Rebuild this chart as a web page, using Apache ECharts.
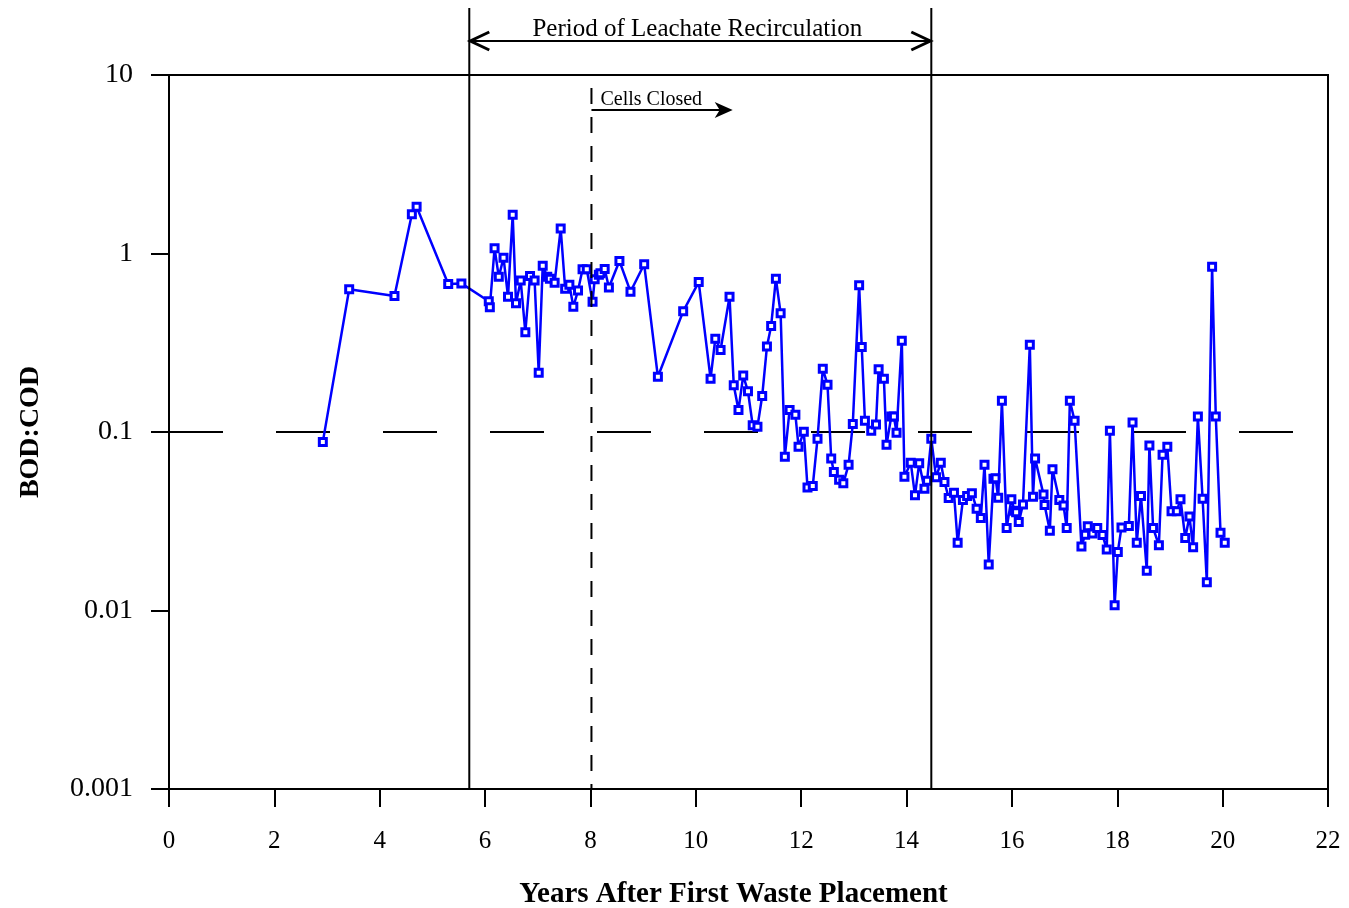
<!DOCTYPE html>
<html>
<head>
<meta charset="utf-8">
<title>BOD:COD</title>
<script src="https://cdn.jsdelivr.net/npm/echarts@6/dist/echarts.min.js"></script>
<style>
  html, body { margin: 0; padding: 0; background: #fff; }
  #chart { width: 1349px; height: 908px; }
</style>
</head>
<body>
<div id="chart"></div>
<script>
// Years after first waste placement for each leachate sample
const years = [
  2.92, 3.42, 4.28, 4.61, 4.70, 5.30, 5.55, 6.07, 6.09, 6.18,
  6.26, 6.35, 6.435, 6.524, 6.587, 6.676, 6.764, 6.853, 6.94, 7.018,
  7.094, 7.18, 7.23, 7.32, 7.435, 7.52, 7.60, 7.675, 7.764, 7.85,
  7.93, 8.04, 8.08, 8.16, 8.19, 8.27, 8.35, 8.55, 8.76, 9.02,
  9.28, 9.76, 10.055, 10.28, 10.37, 10.47, 10.64, 10.72, 10.81, 10.90,
  10.99, 11.08, 11.17, 11.26, 11.35, 11.43, 11.52, 11.61, 11.69, 11.78,
  11.89, 11.95, 12.05, 12.12, 12.22, 12.31, 12.41, 12.50, 12.57, 12.62,
  12.72, 12.80, 12.90, 12.98, 13.10, 13.15, 13.21, 13.33, 13.42, 13.47,
  13.57, 13.62, 13.71, 13.76, 13.81, 13.91, 13.96, 14.08, 14.16, 14.24,
  14.34, 14.39, 14.47, 14.56, 14.65, 14.72, 14.80, 14.90, 14.97, 15.07,
  15.15, 15.24, 15.33, 15.41, 15.48, 15.56, 15.65, 15.69, 15.74, 15.81,
  15.90, 15.99, 16.05, 16.08, 16.13, 16.21, 16.34, 16.40, 16.44, 16.60,
  16.62, 16.72, 16.77, 16.90, 16.98, 17.04, 17.10, 17.19, 17.32, 17.39,
  17.44, 17.53, 17.62, 17.72, 17.80, 17.86, 17.95, 18.01, 18.08, 18.22,
  18.29, 18.37, 18.45, 18.56, 18.61, 18.68, 18.79, 18.86, 18.95, 19.03,
  19.13, 19.20, 19.29, 19.37, 19.44, 19.53, 19.62, 19.70, 19.80, 19.87,
  19.96, 20.04
];

// BOD:COD ratio measured for each sample
const ratios = [
  0.088, 0.63, 0.578, 1.66, 1.83, 0.675, 0.68, 0.54, 0.50, 1.07,
  0.74, 0.947, 0.573, 1.65, 0.526, 0.705, 0.362, 0.748, 0.705, 0.215,
  0.855, 0.74, 0.722, 0.686, 1.38, 0.635, 0.668, 0.503, 0.62, 0.816,
  0.816, 0.537, 0.717, 0.76, 0.775, 0.818, 0.645, 0.908, 0.611, 0.87,
  0.204, 0.474, 0.692, 0.199, 0.333, 0.288, 0.573, 0.183, 0.133, 0.207,
  0.169, 0.109, 0.107, 0.159, 0.301, 0.393, 0.723, 0.462, 0.0727, 0.133,
  0.125, 0.0827, 0.1004, 0.0488, 0.0499, 0.0917, 0.226, 0.184, 0.071, 0.0597,
  0.054, 0.0516, 0.0656, 0.111, 0.663, 0.299, 0.1156, 0.1017, 0.11, 0.2245,
  0.199, 0.0849, 0.122, 0.122, 0.099, 0.325, 0.0562, 0.0673, 0.0442, 0.0668,
  0.0481, 0.0533, 0.0917, 0.0557, 0.0673, 0.0525, 0.0427, 0.0457, 0.024, 0.0416,
  0.0438, 0.0454, 0.0372, 0.033, 0.0656, 0.0181, 0.0547, 0.055, 0.0428, 0.1497,
  0.029, 0.042, 0.0362, 0.0355, 0.0313, 0.0392, 0.308, 0.0434, 0.071, 0.0446,
  0.039, 0.028, 0.0618, 0.0416, 0.0387, 0.029, 0.1497, 0.1156, 0.0228, 0.0266,
  0.0296, 0.027, 0.029, 0.0265, 0.022, 0.1017, 0.0107, 0.0213, 0.0292, 0.0297,
  0.113, 0.024, 0.0438, 0.0167, 0.0841, 0.029, 0.0232, 0.0746, 0.0827, 0.036,
  0.036, 0.042, 0.0255, 0.0336, 0.0226, 0.122, 0.0423, 0.0144, 0.843, 0.122,
  0.0273, 0.024
];

// Reference ratio of 0.1, drawn as a long-dash line across the years
const referenceYears = [0, 21.37];
const referenceRatio = [0.1, 0.1];

// Periods marked above the plot
const recirculationStart = 5.7;
const recirculationEnd = 14.47;
const cellsClosedYear = 8;
const cellsClosedArrowEnd = 10.7;

// Axis ranges and ticks
const xMin = 0, xMax = 22, xStep = 2;
const yMin = 0.001, yMax = 10;

const FONT = "'Liberation Serif', 'Times New Roman', serif";

const chart = echarts.init(document.getElementById('chart'), null, { renderer: 'canvas' });

const option = {
  backgroundColor: '#fff',
  animation: false,
  grid: {
    left: 169, right: 21, top: 75, bottom: 119,
    containLabel: false,
    outerBoundsMode: 'none',
    show: true, borderColor: '#000', borderWidth: 2, backgroundColor: 'transparent'
  },
  xAxis: {
    type: 'value',
    min: xMin, max: xMax, interval: xStep,
    name: 'Years After First Waste Placement',
    nameLocation: 'middle',
    nameGap: 91,
    nameTextStyle: { fontFamily: FONT, fontWeight: 'bold', fontSize: 29, color: '#000', padding: [0, 30, 0, 0] },
    axisLine: { show: true, lineStyle: { color: '#000', width: 2 } },
    axisTick: { show: true, inside: false, length: 18, lineStyle: { color: '#000', width: 2 } },
    axisLabel: { fontFamily: FONT, fontSize: 25, color: '#000', margin: 40 },
    splitLine: { show: false }
  },
  yAxis: {
    type: 'log',
    logBase: 10,
    min: yMin, max: yMax,
    name: 'BOD:COD',
    nameLocation: 'middle',
    nameGap: 124,
    nameRotate: 90,
    nameTextStyle: { fontFamily: FONT, fontWeight: 'bold', fontSize: 28, color: '#000' },
    axisLine: { show: true, lineStyle: { color: '#000', width: 2 } },
    axisTick: { show: true, inside: false, length: 18, lineStyle: { color: '#000', width: 2 } },
    axisLabel: {
      fontFamily: FONT, fontSize: 28, color: '#000', margin: 36,
      formatter: function (v) {
        return v >= 1 ? String(Math.round(v)) : String(Number(v.toPrecision(1)));
      }
    },
    splitLine: { show: false },
    minorTick: { show: false }
  },
  series: [
    {
      name: 'Reference',
      type: 'line',
      data: referenceYears.map((x, i) => [x, referenceRatio[i]]),
      symbol: 'none',
      silent: true,
      lineStyle: { color: '#000', width: 2, type: [54, 53] },
      z: 1
    },
    {
      name: 'BOD:COD',
      type: 'line',
      data: years.map((x, i) => [x, ratios[i]]),
      symbol: 'rect',
      symbolSize: 7,
      showAllSymbol: true,
      lineStyle: { color: '#0000ff', width: 2.5 },
      itemStyle: { color: '#ffffff', borderColor: '#0000ff', borderWidth: 3 },
      z: 3
    }
  ]
};

chart.setOption(option);

// Annotations placed through the axes' own coordinate conversion
function px(x, y) {
  return chart.convertToPixel({ xAxisIndex: 0, yAxisIndex: 0 }, [x, y]);
}

const gridBottom = px(0, yMin)[1];
const xs = px(recirculationStart, 1)[0];
const xe = px(recirculationEnd, 1)[0];
const xc = px(cellsClosedYear, 1)[0] + 1;
const xa = px(cellsClosedArrowEnd, 1)[0];
const arrowY = 41;
const cellsY = 110;
const black = '#000';

chart.setOption({
  graphic: [
    { type: 'line', shape: { x1: xs, y1: 8, x2: xs, y2: gridBottom }, style: { stroke: black, lineWidth: 2 }, z: 10 },
    { type: 'line', shape: { x1: xe, y1: 8, x2: xe, y2: gridBottom }, style: { stroke: black, lineWidth: 2 }, z: 10 },
    { type: 'line', shape: { x1: xc, y1: 88, x2: xc, y2: gridBottom }, style: { stroke: black, lineWidth: 2, lineDash: [16, 13] }, z: 10 },
    { type: 'line', shape: { x1: xs, y1: arrowY, x2: xe, y2: arrowY }, style: { stroke: black, lineWidth: 2 }, z: 10 },
    { type: 'polyline', shape: { points: [[xs + 20, arrowY - 9], [xs + 1, arrowY], [xs + 20, arrowY + 9]] }, style: { stroke: black, lineWidth: 3, fill: null }, z: 10 },
    { type: 'polyline', shape: { points: [[xe - 20, arrowY - 9], [xe - 1, arrowY], [xe - 20, arrowY + 9]] }, style: { stroke: black, lineWidth: 3, fill: null }, z: 10 },
    {
      type: 'text', x: (xs + xe) / 2 - 3, y: 29,
      style: { text: 'Period of Leachate Recirculation', fontFamily: FONT, fontSize: 25, fill: black, align: 'center', verticalAlign: 'middle' },
      z: 10
    },
    { type: 'line', shape: { x1: xc, y1: cellsY, x2: xa - 4, y2: cellsY }, style: { stroke: black, lineWidth: 2 }, z: 10 },
    { type: 'polygon', shape: { points: [[xa, cellsY], [xa - 18, cellsY - 8], [xa - 13, cellsY], [xa - 18, cellsY + 8]] }, style: { fill: black }, z: 10 },
    {
      type: 'text', x: xc + 9, y: 100,
      style: { text: 'Cells Closed', fontFamily: FONT, fontSize: 20, fill: black, align: 'left', verticalAlign: 'middle' },
      z: 10
    }
  ]
});
</script>
</body>
</html>
